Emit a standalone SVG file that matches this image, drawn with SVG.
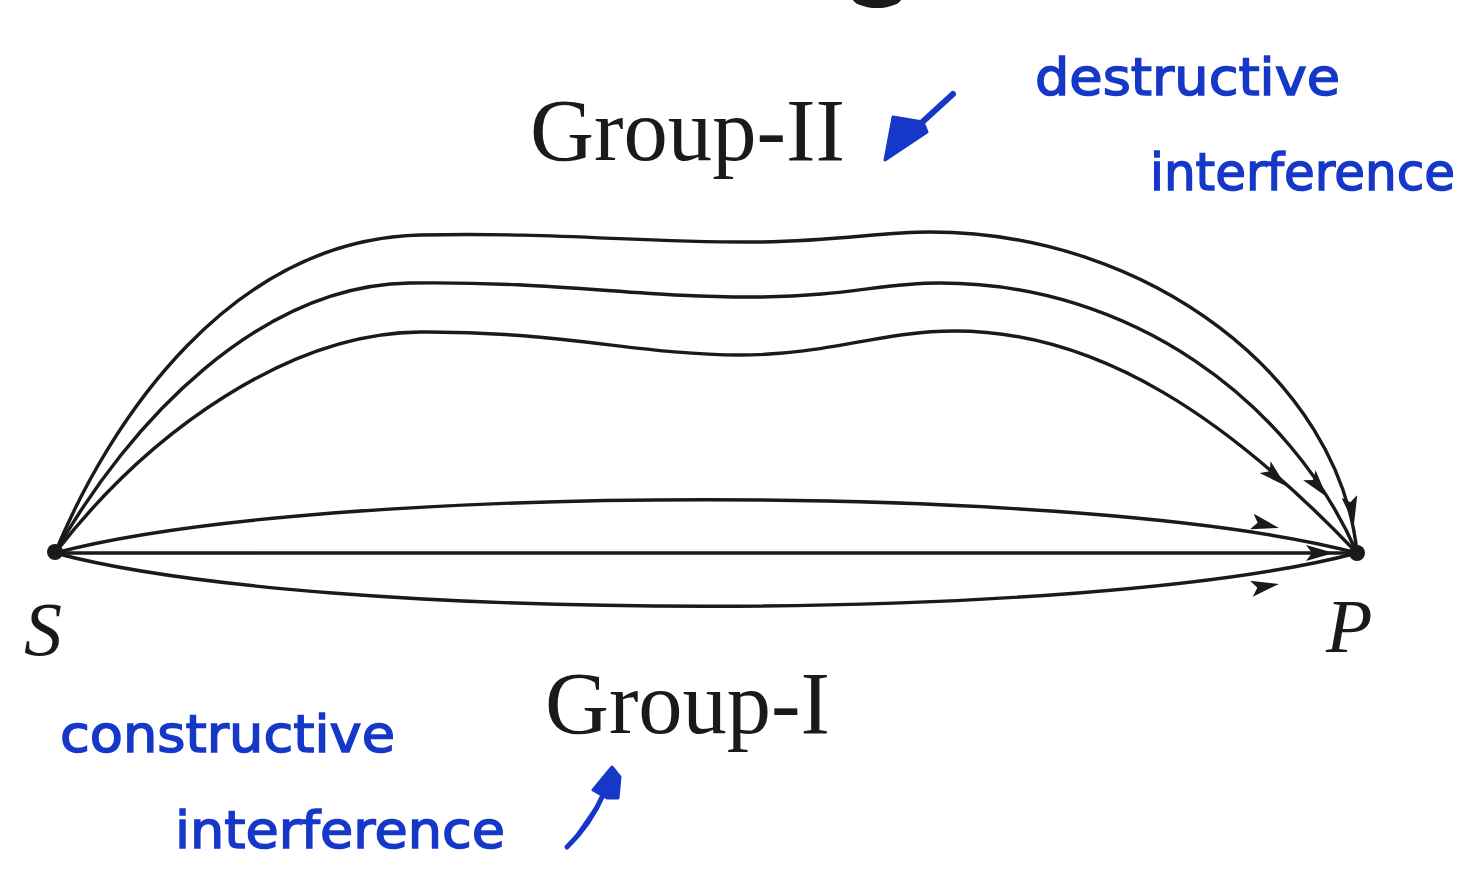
<svg xmlns="http://www.w3.org/2000/svg" width="1470" height="880" viewBox="0 0 1470 880">
<style>
.ray{fill:none;stroke:#1a1a1a;stroke-width:3.4;stroke-linecap:round}
.tip{fill:none;stroke:none}
.lbl{font-family:"Liberation Serif","Times New Roman",serif;fill:#1a1a1a}
.pt{font-family:"Liberation Serif","Times New Roman",serif;font-style:italic;fill:#1a1a1a;font-size:76px}
.hand{font-family:"DejaVu Sans","Noto Sans",sans-serif;fill:#1638c8;font-size:52px;stroke:#1638c8;stroke-width:1.5}
.blue{fill:#1638c8;stroke:#1638c8;stroke-linejoin:round;stroke-linecap:round}
</style>
<defs>
<marker id="ah" viewBox="0 0 28 16" refX="28" refY="8" markerWidth="28" markerHeight="16" markerUnits="userSpaceOnUse" orient="auto">
<path d="M0,0 L28,8 L0,16 L6,8 Z" fill="#1a1a1a"/>
</marker>
</defs>
<rect width="1470" height="880" fill="#ffffff"/>
<ellipse cx="877" cy="-3" rx="25" ry="11" fill="#1a1a1a"/>
<g id="connectors">
<path class="ray" d="M55,553 C110,420 230,240 420,235 C560,232 640,243 760,242 C840,241 880,232 930,232 C1150,232 1340,380 1357,553"/>
<path class="ray" d="M55,553 C130,420 260,285 410,283 C560,281 640,298 760,297 C850,296 880,283 940,283 C1130,283 1290,400 1357,553"/>
<path class="ray" d="M55,553 C150,430 290,333 420,332 C560,331 640,355 740,355 C830,355 880,331 955,331 C1100,331 1230,420 1357,553"/>
<path class="ray" d="M55,553 C320,482 1090,482 1357,553"/>
<path class="ray" d="M55,553 L1357,553"/>
<path class="ray" d="M55,553 C320,624 1090,624 1357,553"/>
<path class="tip" d="M1350,500 L1354,524" marker-end="url(#ah)"/>
<path class="tip" d="M1310,476 L1327,497" marker-end="url(#ah)"/>
<path class="tip" d="M1265,467 L1286,486" marker-end="url(#ah)"/>
<path class="tip" d="M1250,521 L1279,528" marker-end="url(#ah)"/>
<path class="tip" d="M1300,553 L1334,553" marker-end="url(#ah)"/>
<path class="tip" d="M1250,589 L1279,584" marker-end="url(#ah)"/>
</g>
<g id="node-S">
<circle cx="55" cy="552" r="8" fill="#1a1a1a"/>
<text class="pt" x="24" y="655">S</text>
</g>
<g id="node-P">
<circle cx="1357" cy="553" r="8" fill="#1a1a1a"/>
<text class="pt" x="1326" y="652">P</text>
</g>
<g id="label-group2">
<text class="lbl" x="530" y="160" font-size="88" textLength="315" lengthAdjust="spacingAndGlyphs">Group-II</text>
</g>
<g id="label-group1">
<text class="lbl" x="545" y="733" font-size="88" textLength="285" lengthAdjust="spacingAndGlyphs">Group-I</text>
</g>
<g id="note-destructive">
<text class="hand" x="1035" y="95" textLength="305" lengthAdjust="spacingAndGlyphs">destructive</text>
<text class="hand" x="1150" y="190" font-size="51" textLength="305" lengthAdjust="spacingAndGlyphs">interference</text>
<path class="blue" stroke-width="6" d="M953,94 L918,126"/>
<path class="blue" stroke-width="3" d="M893,117 L923,122 L927,132 L885,160 Z"/>
</g>
<g id="note-constructive">
<text class="hand" x="60" y="752" textLength="335" lengthAdjust="spacingAndGlyphs">constructive</text>
<text class="hand" x="175" y="848" textLength="330" lengthAdjust="spacingAndGlyphs">interference</text>
<path class="blue" fill="none" stroke-width="5" d="M567,847 Q590,825 604,793"/>
<path class="blue" stroke-width="3" d="M612,767 L620,777 L618,798 L607,798 L593,790 Z"/>
</g>
</svg>
